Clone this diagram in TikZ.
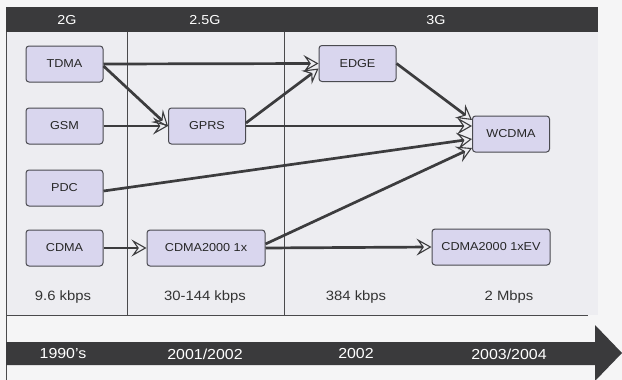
\documentclass[tikz,border=0pt]{standalone}
\usepackage{fontspec}
\setmainfont{Liberation Sans}[FakeStretch=1.1]
\usetikzlibrary{arrows.meta}
\definecolor{paper}{HTML}{EDEDF1}
\definecolor{paperlight}{HTML}{F5F5F6}
\definecolor{barc}{HTML}{3A3A3C}
\definecolor{rulec}{HTML}{4A4A4C}
\definecolor{boxfill}{HTML}{D9D6EE}
\definecolor{boxline}{HTML}{4A4A50}
\definecolor{arrowc}{HTML}{3C3C3E}
\begin{document}
\begin{tikzpicture}[x=1pt,y=-1pt,
  tech/.style={draw=boxline, fill=boxfill, line width=1pt, rounded corners=3pt,
    minimum width=77pt, minimum height=36pt, inner sep=0pt,
    font=\fontsize{11.5}{13}\selectfont, text=black!85},
  wide/.style={tech, minimum width=118pt},
  flow/.style={draw=arrowc, line width=2.7pt,
    -{Stealth[open, length=15pt, width=17pt, inset=6pt, line width=1.1pt]}},
  hdr/.style={text=white, font=\fontsize{13}{15}\selectfont},
  tl/.style={text=white, font=\fontsize{14.5}{16}\selectfont},
  rate/.style={text=black!80, font=\fontsize{13.5}{15}\selectfont},
  rulel/.style={draw=rulec, line width=1pt}]
\useasboundingbox (0,0) rectangle (622,380);
% backgrounds
\fill[paperlight] (0,0) rectangle (622,380);
\fill[paper] (6,7) rectangle (598,315);
% frame and column rules
\draw[rulel] (6,7) -- (6,380);
\draw[rulel] (127,32) -- (127,315);
\draw[rulel] (284,32) -- (284,315);
\draw[rulel] (6,315) -- (588,315);
% header bar
\fill[barc] (6,7) rectangle (598,32);
\node[hdr] (h2g) at (67,20) {2G};
\node[hdr] (h25g) at (205,20) {2.5G};
\node[hdr] (h3g) at (436,20) {3G};
% timeline arrow
\fill[barc] (6,342) -- (595,342) -- (595,325) -- (622,353) -- (595,381) -- (595,365) -- (6,365) -- cycle;
\node[tl] (t1) at (63,354) {1990's};
\node[tl] (t2) at (205,354) {2001/2002};
\node[tl] (t3) at (356,354) {2002};
\node[tl] (t4) at (509,354) {2003/2004};
% data rates
\node[rate] (r1) at (63,297) {9.6 kbps};
\node[rate] (r2) at (205,297) {30-144 kbps};
\node[rate] (r3) at (356,297) {384 kbps};
\node[rate] (r4) at (509,297) {2 Mbps};
% technologies
\node[tech] (tdma) at (64.5,64) {TDMA};
\node[tech] (gsm) at (64.5,126) {GSM};
\node[tech] (pdc) at (64.5,188) {PDC};
\node[tech] (cdma) at (64.5,248) {CDMA};
\node[tech] (gprs) at (207,126) {GPRS};
\node[wide] (c1x) at (206,248) {CDMA2000 1x};
\node[tech] (edge) at (357.5,63.5) {EDGE};
\node[tech] (wcdma) at (511,134) {WCDMA};
\node[wide] (c1xev) at (491,247) {CDMA2000 1xEV};
% evolution paths
\draw[flow] (tdma.east) -- (edge.west);
\draw[flow] ([yshift=-2pt]tdma.east) -- (gprs.west);
\draw[flow] (gsm.east) -- (gprs.west);
\draw[flow] ([yshift=3pt]gprs.east) -- ([yshift=-5pt]edge.west);
\draw[flow] (gprs.east) -- ([yshift=8pt]wcdma.west);
\draw[flow] (edge.east) -- ([yshift=14pt]wcdma.west);
\draw[flow] ([yshift=-3pt]pdc.east) -- ([yshift=-5pt]wcdma.west);
\draw[flow] ([yshift=4pt]c1x.east) -- ([yshift=-14pt]wcdma.west);
\draw[flow] (cdma.east) -- (c1x.west);
\draw[flow] (c1x.east) -- (c1xev.west);
\end{tikzpicture}
\end{document}
